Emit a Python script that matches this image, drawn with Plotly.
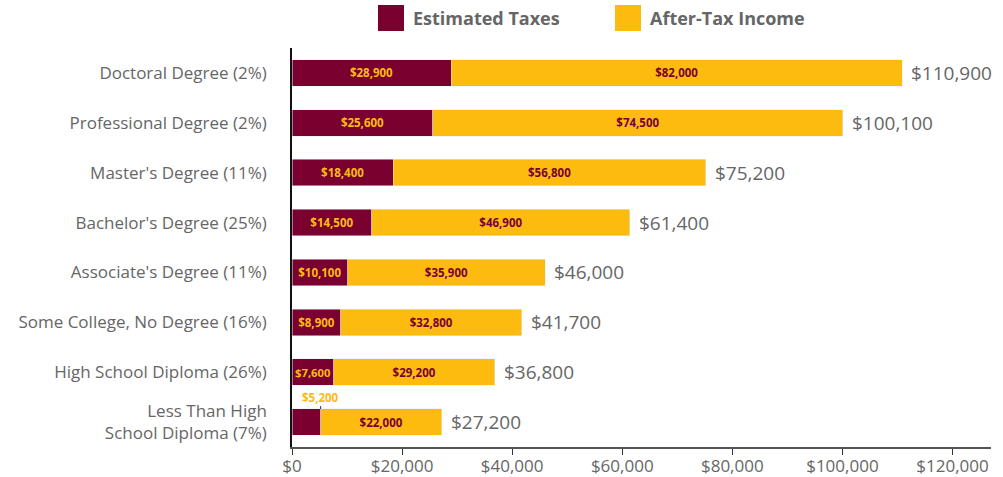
import plotly.graph_objects as go

categories = ["Doctoral Degree (2%)", "Professional Degree (2%)", "Master's Degree (11%)",
              "Bachelor's Degree (25%)", "Associate's Degree (11%)",
              "Some College, No Degree (16%)", "High School Diploma (26%)",
              "Less Than High<br>School Diploma (7%)"]
taxes = [28900, 25600, 18400, 14500, 10100, 8900, 7600, 5200]
after_tax = [82000, 74500, 56800, 46900, 35900, 32800, 29200, 22000]
totals = [110900, 100100, 75200, 61400, 46000, 41700, 36800, 27200]
tick_vals = [0, 20000, 40000, 60000, 80000, 100000, 120000]
tick_text = ["$0", "$20,000", "$40,000", "$60,000", "$80,000", "$100,000", "$120,000"]

MAROON = "#7A0030"
GOLD = "#FDBB10"
GRAY = "#666666"
FONT = "Open Sans"

def money(v):
    return "${:,}".format(v)

tax_text = [money(v) for v in taxes]
tax_text[-1] = ""

fig = go.Figure()
fig.add_trace(go.Bar(
    y=categories, x=taxes, orientation="h", name="Estimated Taxes",
    marker_color=MAROON, text=tax_text, textposition="inside",
    insidetextanchor="middle", textangle=0,
    textfont=dict(family=FONT, size=11.5, color=GOLD, weight="bold"),
    hoverinfo="skip"))
fig.add_trace(go.Bar(
    y=categories, x=after_tax, orientation="h", name="After-Tax Income",
    marker_color=GOLD, text=[money(v) for v in after_tax], textposition="inside",
    insidetextanchor="middle", textangle=0,
    textfont=dict(family=FONT, size=11.5, color=MAROON, weight="bold"),
    hoverinfo="skip"))

# total labels at the end of each bar
for cat, tot in zip(categories, totals):
    fig.add_annotation(x=tot, y=cat, text=money(tot), showarrow=False,
                       xanchor="left", xshift=7,
                       font=dict(family=FONT, size=19, color=GRAY))

# callout for the narrow bar
fig.add_annotation(x=taxes[-1], y=categories[-1], text="<b>" + money(taxes[-1]) + "</b>",
                   showarrow=True, arrowhead=0, arrowwidth=1, arrowcolor="#333333",
                   ax=0, ay=-12, yshift=13, standoff=0,
                   font=dict(family=FONT, size=11.5, color=GOLD))

# legend
legend_items = [("Estimated Taxes", MAROON, 378), ("After-Tax Income", GOLD, 615)]
for label, color, px in legend_items:
    fig.add_shape(type="rect", xref="paper", yref="paper",
                  x0=(px - 292) / 699, x1=(px + 26 - 292) / 699,
                  y0=1 + (48 - 31) / 399, y1=1 + (48 - 5) / 399,
                  fillcolor=color, line_width=0)
    fig.add_annotation(xref="paper", yref="paper", x=(px + 33 - 292) / 699,
                       y=1 + (48 - 18) / 399, text="<b>" + label + "</b>",
                       showarrow=False, xanchor="left", yanchor="middle",
                       font=dict(family=FONT, size=18, color=GRAY))

fig.update_layout(
    barmode="stack", bargap=0.47, width=1003, height=477,
    margin=dict(l=292, r=12, t=48, b=30, autoexpand=False),
    plot_bgcolor="white", paper_bgcolor="white", showlegend=False,
    hovermode=False,
    font=dict(family=FONT, color=GRAY),
    xaxis=dict(range=[0, 127000], tickvals=tick_vals, ticktext=tick_text,
               showgrid=False, zeroline=False, showline=True, linecolor="#555555",
               linewidth=1.5, ticks="outside", ticklen=6, tickcolor="#333333",
               automargin=False, ticklabelstandoff=-3,
               tickfont=dict(family=FONT, size=17, color=GRAY)),
    yaxis=dict(categoryorder="array", categoryarray=categories, range=[7.5, -0.5],
               showgrid=False, showline=True, linecolor="#111111", linewidth=1.5,
               ticks="", ticklabelstandoff=20, automargin=False,
               tickfont=dict(family=FONT, size=17, color=GRAY)),
)

# remove the default page margin so the figure fills the window exactly
fig.write_html("out.html", config={"displayModeBar": False},
               post_script="document.body.style.margin='0';document.body.style.overflow='hidden';")
